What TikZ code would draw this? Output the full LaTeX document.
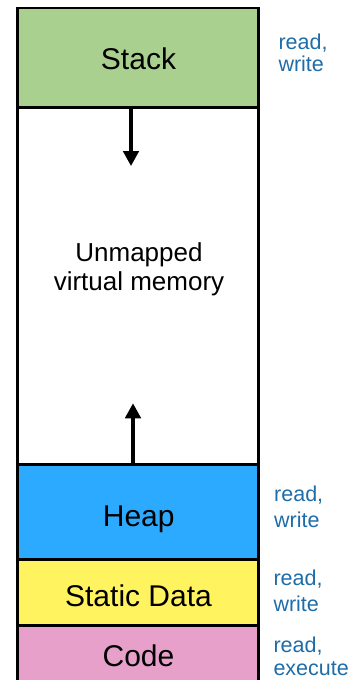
\documentclass[tikz,border=0pt]{standalone}
\usepackage{fontspec}
\setmainfont{Liberation Sans}
\usetikzlibrary{arrows.meta}

\definecolor{stackgreen}{RGB}{169,208,142}
\definecolor{heapblue}{RGB}{43,170,255}
\definecolor{datayellow}{RGB}{255,243,96}
\definecolor{codepink}{RGB}{230,160,202}
\definecolor{permblue}{RGB}{30,108,168}

\tikzset{
  region/.style={draw=black, line width=2.7pt, minimum width=240.9pt,
                 inner sep=0pt, outer sep=0pt, anchor=north},
  segname/.style={font=\fontsize{30}{36}\selectfont, anchor=base, inner sep=0pt},
  perm/.style={font=\fontsize{21.5}{#1}\selectfont, text=permblue, align=left,
               anchor=base west, inner sep=0pt},
  perm/.default=24,
  growarrow/.style={line width=3.3pt, -{Triangle[width=15.5pt,length=15pt]}}
}

\begin{document}
\begin{tikzpicture}[x=1pt,y=-1pt]
  \useasboundingbox (0,0) rectangle (353,680);
  \path[clip] (0,0) rectangle (353,680);

  % memory segments, top to bottom
  \node[region, fill=stackgreen, minimum height=99.3pt] (stack) at (137.75,8) {};
  \node[region, fill=white, minimum height=357.2pt] (unmapped) at (137.75,107.3) {};
  \node[region, fill=heapblue, minimum height=95.2pt] (heap) at (137.75,464.5) {};
  \node[region, fill=datayellow, minimum height=65.6pt] (static) at (137.75,559.7) {};
  \node[region, fill=codepink, minimum height=66pt] (code) at (137.75,625.3) {};

  % segment names (multi-line nodes sit on the baseline of their last line)
  \node[segname] (stacktxt) at (138.5,69.3) {Stack};
  \node[font=\fontsize{26}{28.3}\selectfont, align=center, anchor=base, inner sep=0pt]
    (unmappedtxt) at (139,290) {Unmapped\\virtual memory};
  \node[segname] (heaptxt) at (138.7,526) {Heap};
  \node[segname] (statictxt) at (138.5,606.7) {Static Data};
  \node[segname] (codetxt) at (138.5,666.5) {Code};

  % access permissions
  \node[perm=22.7] (stackperm) at (278.3,71.7) {read,\\write};
  \node[perm=25.6] (heapperm) at (274,527.3) {read,\\write};
  \node[perm=26] (staticperm) at (273.3,611) {read,\\write};
  \node[perm=22.3] (codeperm) at (273.3,675) {read,\\execute};

  % growth directions of stack and heap
  \coordinate (downtip) at (131,166);
  \coordinate (uptip) at (133,403.3);
  \draw[growarrow] (stack.south -| downtip) -- (downtip);
  \draw[growarrow] (heap.north -| uptip) -- (uptip);
\end{tikzpicture}
\end{document}
